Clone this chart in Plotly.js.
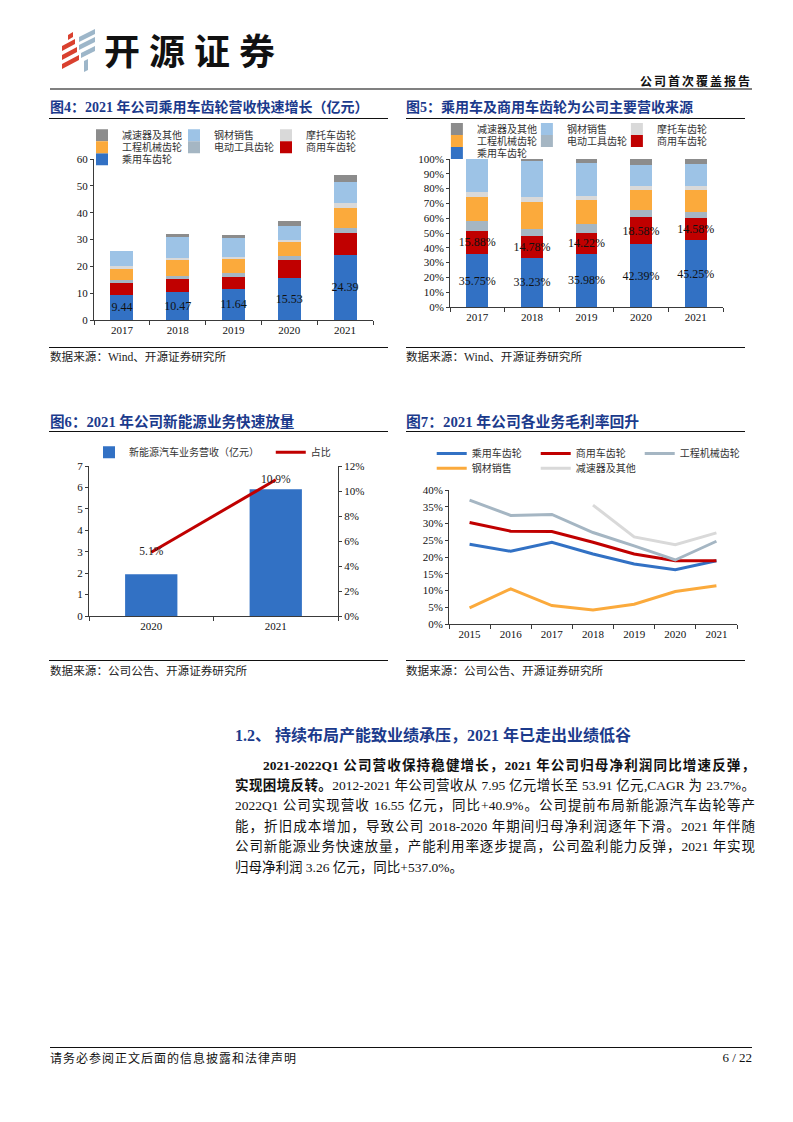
<!DOCTYPE html>
<html><head><meta charset="utf-8">
<script src="https://cdn.plot.ly/plotly-3.0.1.min.js"></script>
<style>
body{margin:0;width:793px;height:1122px;position:relative;background:#fff;overflow:hidden;font-family:"Liberation Serif","Noto Sans CJK SC",serif;color:#111}
.abs{position:absolute;white-space:nowrap}
.ftitle{position:absolute;white-space:nowrap;font-weight:bold;color:#1B3A8C;line-height:18px}
.rule{position:absolute;height:0;border-top:1.3px solid #111}
.src{position:absolute;white-space:nowrap;font-size:11.6px;line-height:14px;color:#222}
.chart{position:absolute}
.pl{position:absolute;left:235px;width:520px;font-size:13.5px;line-height:20.4px;height:20.4px;text-align:justify;text-align-last:justify}
</style>
</head><body>

<!-- header -->
<svg class="abs" style="left:60px;top:28px" width="40" height="44" viewBox="0 0 40 44">
  <polygon points="8,7 13,4 13,9 8,12" fill="#D9412F"/>
  <polygon points="2,18 15,11 15,16 2,23" fill="#D9412F"/>
  <polygon points="2,27 17,19 17,24 2,32" fill="#D9412F"/>
  <polygon points="2,36 19,27 19,32 2,41" fill="#D9412F"/>
  <polygon points="19,9 35,1 35,6 19,14" fill="#9DB6C9"/>
  <polygon points="19,17 35,9 35,14 19,22" fill="#9DB6C9"/>
  <polygon points="21,25 35,18 35,23 21,30" fill="#9DB6C9"/>
  <polygon points="24,33 28,31 28,42 24,44" fill="#9DB6C9"/>
</svg>
<div class="abs" style="left:104px;top:29px;font-family:'Noto Sans CJK SC';font-weight:700;font-size:36px;line-height:40px;letter-spacing:9px;color:#111">开源证券</div>
<div class="abs" style="right:41px;top:73px;font-family:'Noto Sans CJK SC';font-weight:700;font-size:12px;line-height:16px;letter-spacing:2px;color:#111">公司首次覆盖报告</div>
<div class="abs" style="left:50px;top:87.5px;width:702px;height:2px;background:#808080"></div>

<!-- figure titles -->
<div class="ftitle" style="left:50px;top:99px;font-size:14px">图4：2021 年公司乘用车齿轮营收快速增长（亿元）</div>
<div class="rule" style="left:49px;top:118px;width:339px"></div>
<div class="ftitle" style="left:406px;top:99px;font-size:14px">图5：乘用车及商用车齿轮为公司主要营收来源</div>
<div class="rule" style="left:406px;top:118px;width:339px"></div>

<div class="ftitle" style="left:50px;top:413px;font-size:14.6px">图6：2021 年公司新能源业务快速放量</div>
<div class="rule" style="left:49px;top:431px;width:339px"></div>
<div class="ftitle" style="left:406px;top:413px;font-size:14.8px">图7：2021 年公司各业务毛利率回升</div>
<div class="rule" style="left:406px;top:431px;width:339px"></div>

<!-- charts -->
<div id="c4" class="chart" style="left:45px;top:110px;width:350px;height:235px"></div>
<div id="c5" class="chart" style="left:400px;top:110px;width:350px;height:235px"></div>
<div id="c6" class="chart" style="left:45px;top:435px;width:350px;height:210px"></div>
<div id="c7" class="chart" style="left:400px;top:435px;width:350px;height:210px"></div>

<!-- sources -->
<div class="rule" style="left:49px;top:347px;width:339px"></div>
<div class="src" style="left:50px;top:351px">数据来源：Wind、开源证券研究所</div>
<div class="rule" style="left:406px;top:347px;width:339px"></div>
<div class="src" style="left:406px;top:351px">数据来源：Wind、开源证券研究所</div>
<div class="rule" style="left:49px;top:660px;width:339px"></div>
<div class="src" style="left:50px;top:665px">数据来源：公司公告、开源证券研究所</div>
<div class="rule" style="left:406px;top:660px;width:339px"></div>
<div class="src" style="left:406px;top:665px">数据来源：公司公告、开源证券研究所</div>

<!-- section text -->
<div class="abs" style="left:235px;top:725px;font-size:16px;line-height:21px;font-weight:bold;color:#1B3A8C">1.2、 持续布局产能致业绩承压，2021 年已走出业绩低谷</div>
<div class="pl" style="top:755.5px;left:263px;width:492px;font-weight:bold">2021-2022Q1 公司营收保持稳健增长，2021 年公司归母净利润同比增速反弹，</div>
<div class="pl" style="top:775.9px"><b>实现困境反转。</b>2012-2021 年公司营收从 7.95 亿元增长至 53.91 亿元,CAGR 为 23.7%。</div>
<div class="pl" style="top:796.3px">2022Q1 公司实现营收 16.55 亿元，同比+40.9%。公司提前布局新能源汽车齿轮等产</div>
<div class="pl" style="top:816.7px">能，折旧成本增加，导致公司 2018-2020 年期间归母净利润逐年下滑。2021 年伴随</div>
<div class="pl" style="top:837.1px">公司新能源业务快速放量，产能利用率逐步提高，公司盈利能力反弹，2021 年实现</div>
<div class="pl" style="top:857.5px;text-align:left;text-align-last:left">归母净利润 3.26 亿元，同比+537.0%。</div>

<!-- footer -->
<div class="abs" style="left:50px;top:1046.5px;width:702px;height:0;border-top:1px solid #111"></div>
<div class="abs" style="left:50px;top:1050px;font-size:12px;line-height:16px;letter-spacing:1px;font-family:'Noto Sans CJK SC'">请务必参阅正文后面的信息披露和法律声明</div>
<div class="abs" style="right:41px;top:1050px;font-size:13px;line-height:16px">6 / 22</div>

<script>
// ---------- data ----------
const years = ['2017', '2018', '2019', '2020', '2021'];
const seriesNames = ['乘用车齿轮', '商用车齿轮', '电动工具齿轮', '工程机械齿轮', '摩托车齿轮', '钢材销售', '减速器及其他'];

// 图4 revenue (亿元)
const passenger    = [9.44, 10.47, 11.64, 15.53, 24.39];
const commercial   = [4.2, 4.7, 4.5, 6.85, 7.86];
const powerTool    = [1.3, 1.1, 1.3, 1.5, 1.9];
const construction = [4.2, 6.0, 5.2, 5.1, 7.7];
const motorcycle   = [1.1, 1.0, 0.8, 1.0, 1.6];
const steel        = [5.6, 7.5, 7.0, 4.9, 7.8];
const reducer      = [0, 1.1, 1.2, 2.1, 2.7];

// 图5 share (%)
const passengerPct    = [35.75, 33.23, 35.98, 42.39, 45.25];
const commercialPct   = [15.88, 14.78, 14.22, 18.58, 14.58];
const powerToolPct    = [6.6, 4.5, 5.6, 4.4, 4.2];
const constructionPct = [16.4, 18.7, 16.3, 13.9, 14.9];
const motorcyclePct   = [2.9, 3.4, 2.9, 2.7, 2.9];
const steelPct        = [22.5, 24.0, 22.5, 13.7, 14.8];
const reducerPct      = [0, 1.4, 2.5, 4.3, 3.4];

// 图6
const nevYears = ['2020', '2021'];
const nevRevenue = [1.95, 5.91];
const nevShare = [5.1, 10.9];
const nevNames = ['新能源汽车业务营收（亿元）', '占比'];

// 图7 gross margin (%)
const marginYears = ['2015', '2016', '2017', '2018', '2019', '2020', '2021'];
const marginNames = ['乘用车齿轮', '商用车齿轮', '工程机械齿轮', '钢材销售', '减速器及其他'];
const passengerMargin    = [23.8, 21.7, 24.4, 20.9, 17.9, 16.2, 18.9];
const commercialMargin   = [30.3, 27.7, 27.6, 24.4, 20.9, 18.9, 18.9];
const constructionMargin = [37.0, 32.4, 32.7, 27.3, 23.3, 19.1, 24.7];
const steelMargin        = [4.8, 10.5, 5.5, 4.2, 5.9, 9.7, 11.4];
const reducerMargin      = [null, null, null, 35.5, 26.0, 23.7, 27.2];

// ---------- styles ----------
const SERIF = '"Liberation Serif", "Times New Roman", serif';
const LEGF = '"Liberation Serif", "Noto Sans CJK SC", serif';
const CJK = '"Noto Sans CJK SC", "Liberation Serif", sans-serif';
const AX = '#3a3a3a';
const stackColors = ['#3271C4', '#C00000', '#A5B6C3', '#FBAA3C', '#D9D9D9', '#9DC3E6', '#8C8C8C'];
const marginColors = ['#3271C4', '#C00000', '#A5B6C3', '#FBAA3C', '#D9D9D9'];
const stackLegend = ['legend3', 'legend2', 'legend2', 'legend2', 'legend', 'legend', 'legend'];
const cfg = {staticPlot: true, displayModeBar: false};

function legendCfg(x, y, ew, order) {
  return {orientation: 'h', x: x, y: y, xanchor: 'left', yanchor: 'top', traceorder: order,
    font: {family: LEGF, size: 10, color: '#333'}, bgcolor: 'rgba(0,0,0,0)', borderwidth: 0,
    entrywidth: ew, entrywidthmode: 'pixels'};
}
function catAxis(range) {
  const a = {type: 'category', showline: true, linecolor: AX, linewidth: 1, ticks: 'outside',
    tickson: 'boundaries', ticklen: 4, tickcolor: AX, showgrid: false, zeroline: false,
    tickfont: {family: SERIF, size: 11, color: '#111'}, fixedrange: true};
  if (range) { a.range = range; a.autorange = false; }
  return a;
}
function valAxis(range, dtick, suffix) {
  return {range: range, dtick: dtick, ticksuffix: suffix || '', showline: true, linecolor: AX,
    linewidth: 1, ticks: 'outside', ticklen: 3, tickcolor: AX, showgrid: false, zeroline: false,
    tickfont: {family: SERIF, size: 11, color: '#111'}, fixedrange: true};
}
function baseLayout(m) {
  return {margin: Object.assign({autoexpand: false}, m), paper_bgcolor: 'rgba(0,0,0,0)',
    plot_bgcolor: 'rgba(0,0,0,0)', showlegend: true, font: {family: CJK}};
}

function stackTraces(seriesList, labelIdx, tmpl) {
  return seriesList.map(function (v, i) {
    const t = {type: 'bar', x: years, y: v, name: seriesNames[i], legend: stackLegend[i],
      marker: {color: stackColors[i], line: {width: 0}}, hoverinfo: 'skip', cliponaxis: false};
    if (labelIdx.indexOf(i) >= 0) {
      t.texttemplate = tmpl; t.textposition = 'inside'; t.insidetextanchor = 'middle';
      t.textangle = 0; t.constraintext = 'none';
      t.textfont = {family: SERIF, size: 12, color: '#111'};
    } else {
      t.textposition = 'none';
    }
    return t;
  });
}

// ---------- 图4 ----------
(function () {
  const m = {l: 49, r: 22, t: 49, b: 25};
  const lay = baseLayout(m);
  lay.barmode = 'stack';
  lay.bargap = 0.59;
  lay.xaxis = catAxis();
  lay.yaxis = valAxis([0, 60], 10);
  lay.legend = legendCfg(-0.043, 1.238, 47, 'reversed');
  lay.legend2 = legendCfg(-0.043, 1.163, 47, 'reversed');
  lay.legend3 = legendCfg(-0.043, 1.089, 47, 'reversed');
  Plotly.newPlot('c4', stackTraces([passenger, commercial, powerTool, construction, motorcycle, steel, reducer], [0], '%{y:.2f}'), lay, cfg);
})();

// ---------- 图5 ----------
(function () {
  const m = {l: 50, r: 27, t: 49, b: 37.7};
  const lay = baseLayout(m);
  lay.barmode = 'stack';
  lay.bargap = 0.6;
  lay.xaxis = catAxis();
  lay.yaxis = valAxis([0, 100], 10, '%');
  lay.legend = legendCfg(-0.048, 1.300, 45, 'reversed');
  lay.legend2 = legendCfg(-0.048, 1.219, 45, 'reversed');
  lay.legend3 = legendCfg(-0.048, 1.138, 45, 'reversed');
  Plotly.newPlot('c5', stackTraces([passengerPct, commercialPct, powerToolPct, constructionPct, motorcyclePct, steelPct, reducerPct], [0, 1], '%{y:.2f}%'), lay, cfg);
})();

// ---------- 图6 ----------
(function () {
  const m = {l: 44, r: 57, t: 31, b: 29};
  const lay = baseLayout(m);
  lay.bargap = 0.58;
  lay.xaxis = catAxis();
  lay.yaxis = valAxis([0, 7], 1);
  lay.yaxis2 = Object.assign(valAxis([0, 12], 2, '%'), {overlaying: 'y', side: 'right'});
  lay.legend = legendCfg(0, 1.188, 137, 'normal');
  lay.legend2 = legendCfg(0.730, 1.188, 30, 'normal');
  const traces = [
    {type: 'bar', x: nevYears, y: nevRevenue, name: nevNames[0], marker: {color: '#3271C4'},
      hoverinfo: 'skip', textposition: 'none', legend: 'legend'},
    {type: 'scatter', mode: 'lines+text', x: nevYears, y: nevShare, yaxis: 'y2', name: nevNames[1],
      legend: 'legend2',
      line: {color: '#C00000', width: 3}, texttemplate: '%{y:.1f}%', textposition: 'middle center',
      textfont: {family: SERIF, size: 11.5, color: '#222'}, hoverinfo: 'skip', cliponaxis: false}
  ];
  Plotly.newPlot('c6', traces, lay, cfg);
})();

// ---------- 图7 ----------
(function () {
  const m = {l: 49, r: 13, t: 55, b: 20.7};
  const lay = baseLayout(m);
  lay.xaxis = catAxis([-0.5, 6.5]);
  lay.yaxis = valAxis([0, 40], 5, '%');
  lay.legend = legendCfg(-0.060, 1.381, 59, 'normal');
  lay.legend2 = legendCfg(-0.060, 1.270, 59, 'normal');
  const series = [passengerMargin, commercialMargin, constructionMargin, steelMargin, reducerMargin];
  const legendIds = ['legend', 'legend', 'legend', 'legend2', 'legend2'];
  const traces = series.map(function (v, i) {
    return {type: 'scatter', mode: 'lines', x: marginYears, y: v, name: marginNames[i],
      legend: legendIds[i], line: {color: marginColors[i], width: 3}, connectgaps: false,
      hoverinfo: 'skip'};
  });
  Plotly.newPlot('c7', traces, lay, cfg);
})();
</script>
</body></html>
